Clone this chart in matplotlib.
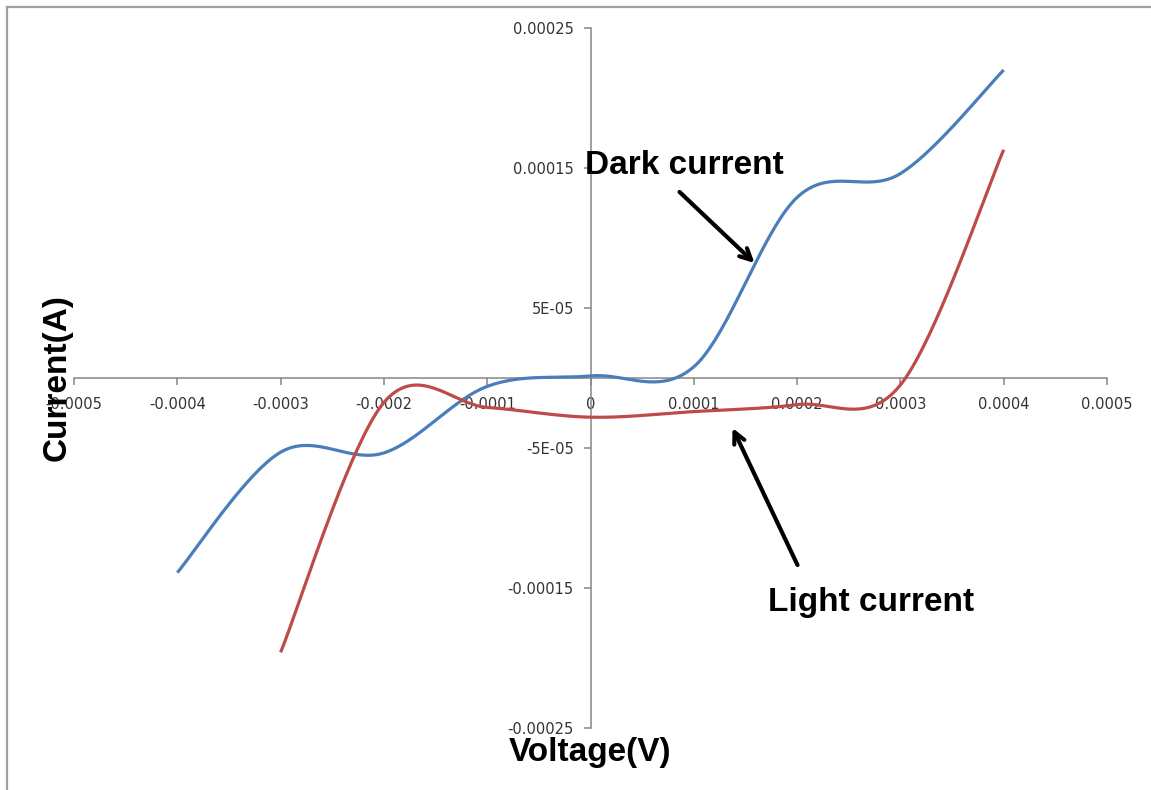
import numpy as np
import matplotlib
matplotlib.use('Agg')
import matplotlib.pyplot as plt
from matplotlib.lines import Line2D

# dados (tensao em V, corrente em A)
volt_dark = [-0.0004, -0.0003, -0.0002, -0.0001, 0.0, 0.0001, 0.0002, 0.0003, 0.0004]
dark_current = [-1.39e-4, -5.3e-5, -5.35e-5, -6e-6, 1.5e-6, 8e-6, 1.29e-4, 1.46e-4, 2.2e-4]

volt_light = [-0.0003, -0.0002, -0.0001, 0.0, 0.0001, 0.0002, 0.0003, 0.0004]
light_current = [-1.96e-4, -1.75e-5, -2.1e-5, -2.8e-5, -2.4e-5, -1.9e-5, -5e-6, 1.63e-4]

x_ticks = [-0.0005, -0.0004, -0.0003, -0.0002, -0.0001, 0, 0.0001, 0.0002, 0.0003, 0.0004, 0.0005]
x_labels = ['-0.0005', '-0.0004', '-0.0003', '-0.0002', '-0.0001', '0',
            '0.0001', '0.0002', '0.0003', '0.0004', '0.0005']
y_ticks = [-0.00025, -0.00015, -0.00005, 0.00005, 0.00015, 0.00025]
y_labels = ['-0.00025', '-0.00015', '-5E-05', '5E-05', '0.00015', '0.00025']


# linha suavizada estilo Excel (bezier / catmull-rom)
def suaviza(xs, ys, n=40):
    p = np.column_stack([xs, ys]).astype(float)
    p = np.vstack([p[0], p, p[-1]])
    t = np.linspace(0, 1, n)[:, None]
    out = []
    for i in range(1, len(p) - 2):
        p0, p1, p2, p3 = p[i - 1], p[i], p[i + 1], p[i + 2]
        b1 = p1 + (p2 - p0) / 6
        b2 = p2 - (p3 - p1) / 6
        seg = ((1 - t) ** 3) * p1 + 3 * ((1 - t) ** 2) * t * b1 + 3 * (1 - t) * t ** 2 * b2 + t ** 3 * p2
        out.append(seg)
    out = np.vstack(out)
    return out[:, 0], out[:, 1]


W, H = 1151, 790
fig = plt.figure(figsize=(W / 100, H / 100), dpi=100)
ax = fig.add_axes([74 / W, 1 - 728 / H, (1107 - 74) / W, (728 - 28) / H])

xd, yd = suaviza(volt_dark, dark_current)
xl, yl = suaviza(volt_light, light_current)
ax.plot(xd, yd, color='#4a7ebb', lw=2.3, solid_capstyle='butt', zorder=3)
ax.plot(xl, yl, color='#be4b48', lw=2.3, solid_capstyle='butt', zorder=3)

ax.set_xlim(-0.0005, 0.0005)
ax.set_ylim(-0.00025, 0.00025)

# eixos cruzando na origem
ax.spines['left'].set_position(('data', 0))
ax.spines['bottom'].set_position(('data', 0))
ax.spines['top'].set_visible(False)
ax.spines['right'].set_visible(False)
for s in ('left', 'bottom'):
    ax.spines[s].set_color('#868686')
    ax.spines[s].set_linewidth(1.1)

ax.set_xticks(x_ticks)
ax.set_xticklabels(x_labels)
ax.set_yticks(y_ticks)
ax.set_yticklabels(y_labels)
ax.tick_params(axis='both', direction='out', length=5, width=1.1, color='#868686',
               labelsize=10.5, labelcolor='#333333')
ax.tick_params(axis='x', pad=9)
ax.tick_params(axis='y', pad=7)
ax.patch.set_visible(False)

# textos e setas
fig.text(585 / W, 1 - 165 / H, 'Dark current', fontsize=24, fontweight='bold',
         family='Liberation Sans', ha='left', va='center')
fig.text(768 / W, 1 - 603 / H, 'Light current', fontsize=24, fontweight='bold',
         family='Liberation Sans', ha='left', va='center')
fig.text(590 / W, 1 - 753 / H, 'Voltage(V)', fontsize=24, fontweight='bold',
         family='Liberation Sans', ha='center', va='center')
fig.text(57 / W, 1 - 378 / H, 'Current(A)', fontsize=24, fontweight='bold',
         family='Liberation Sans', ha='center', va='center', rotation=90)

seta = dict(arrowstyle='->,head_length=0.8,head_width=0.4', lw=3, color='black',
            shrinkA=0, shrinkB=0)
ax.annotate('', xy=(0.0001588, 0.0000821), xytext=(0.0000862, 0.0001329), arrowprops=seta)
ax.annotate('', xy=(0.0001375, -0.0000357), xytext=(0.0002004, -0.0001336), arrowprops=seta)

# moldura cinza (topo e esquerda)
fig.add_artist(Line2D([7 / W, 1], [1 - 7 / H, 1 - 7 / H], color='#a0a0a0', lw=1.6))
fig.add_artist(Line2D([7 / W, 7 / W], [0, 1 - 7 / H], color='#a0a0a0', lw=1.6))

fig.savefig('out.png', dpi=100)
